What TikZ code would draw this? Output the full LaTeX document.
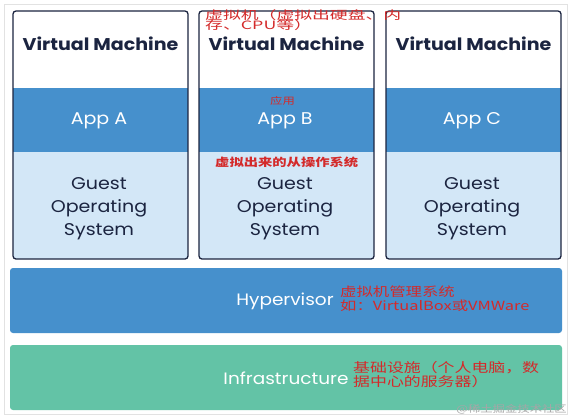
\documentclass[tikz,border=0pt]{standalone}
\usepackage{fontspec}
\setmainfont[FakeStretch=1.12]{Poppins}
\newfontfamily\cjk[FakeStretch=1.3]{Noto Sans CJK SC}
\newfontfamily\cjkwide[FakeStretch=1.55]{Noto Sans CJK SC}
\definecolor{navy}{HTML}{1B2440}
\definecolor{appblue}{HTML}{4690CC}
\definecolor{guestblue}{HTML}{D3E7F7}
\definecolor{infragreen}{HTML}{63C3A6}
\definecolor{annot}{HTML}{D42A2A}
\definecolor{frame}{HTML}{E2E2E2}
\begin{document}
\begin{tikzpicture}[x=1pt,y=-1pt,
  vmtitle/.style={text=navy,font=\fontsize{17}{20}\selectfont\bfseries,inner sep=0},
  applabel/.style={text=white,font=\fontsize{17}{20}\selectfont,inner sep=0},
  guestlabel/.style={text=navy,font=\fontsize{17}{23}\selectfont,align=center,inner sep=0},
  barlabel/.style={text=white,font=\fontsize{16.5}{20}\selectfont,inner sep=0},
  note/.style={text=annot,font=\cjk\fontsize{11}{10.5}\selectfont,inner sep=0,anchor=west,align=left},
  bar/.style={rounded corners=3}
]
\useasboundingbox (0,0) rectangle (573,418);
\fill[white] (0,0) rectangle (573,418);
\draw[frame,line width=0.8] (4,4) rectangle (567,414);

% VM boxes
\foreach \L/\n in {13/A,199/B,386/C}{
  \begin{scope}
    \clip[rounded corners=3] (\L,11) rectangle ({\L+175},259);
    \fill[white] (\L,11) rectangle ({\L+175},88);
    \fill[appblue] (\L,88) rectangle ({\L+175},152);
    \fill[guestblue] (\L,152) rectangle ({\L+175},259);
  \end{scope}
  \draw[navy,line width=1.3,rounded corners=3] (\L,11) rectangle ({\L+175},259);
  \node[vmtitle] (vm\n) at ({\L+87.5},44) {Virtual Machine};
  \node[applabel] (app\n) at ({\L+86},121) {App \n};
  \node[guestlabel] (os\n) at ({\L+86},208.5) {Guest\\Operating\\System};
}

% Hypervisor & Infrastructure
\fill[appblue,bar] (10,268) rectangle (562,333);
\fill[infragreen,bar] (10,345) rectangle (562,410);
\node[barlabel] (hyp) at (285,301.5) {Hypervisor};
\node[barlabel] (infra) at (286,378) {Infrastructure};

% Annotations
\node[note,font=\cjkwide\fontsize{11.5}{10.5}\selectfont] (n1) at (205,15) {虚拟机（虚拟出硬盘、内};
\node[note,font=\cjkwide\fontsize{11.5}{10.5}\selectfont] (n1b) at (205,25.5) {存、CPU等）};
\node[note,font=\cjk\fontsize{9.5}{10}\selectfont] (n2) at (270,101) {应用};
\node[note,font=\cjk\bfseries\fontsize{11}{12}\selectfont] (n3) at (215,162) {虚拟出来的从操作系统};
\node[note,font=\cjk\fontsize{12.6}{12}\selectfont] (n4) at (340,292) {虚拟机管理系统};
\node[note,font=\cjk\fontsize{12.6}{12}\selectfont] (n4b) at (340,306) {如：VirtualBox或VMWare};
\node[note,font=\cjk\fontsize{13}{12}\selectfont] (n5) at (353,368) {基础设施（个人电脑，数};
\node[note,font=\cjk\fontsize{13}{12}\selectfont] (n5b) at (353,382) {据中心的服务器）};
\node[inner sep=0,anchor=east,text=gray!70,font=\cjk\fontsize{9.5}{10}\selectfont] (wm) at (567,409) {@稀土掘金技术社区};
\end{tikzpicture}
\end{document}
